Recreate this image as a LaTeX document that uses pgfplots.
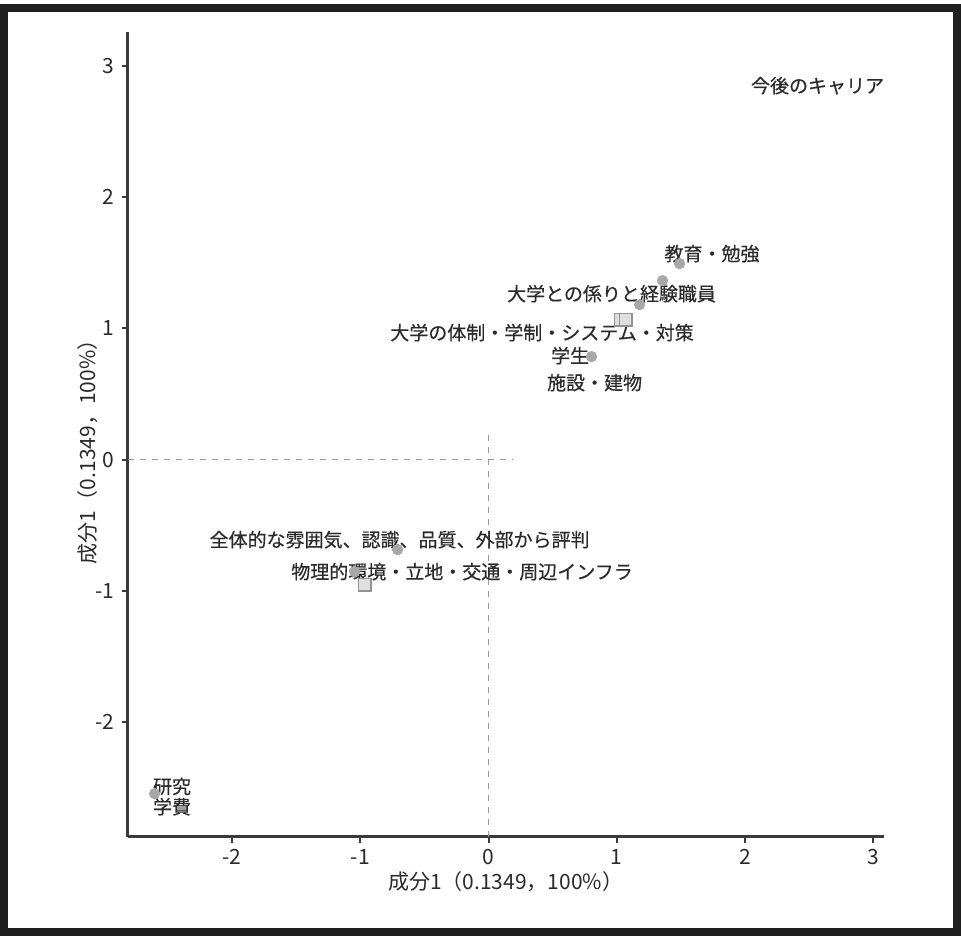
\documentclass[border=0pt]{standalone}
\usepackage{fontspec}
\setmainfont{Noto Sans CJK JP}
\newfontfamily\jpb{Noto Sans CJK JP}[FakeBold=0.4]
\usepackage{pgfplots}
\pgfplotsset{compat=1.18}
\definecolor{txt}{HTML}{2A2A2A}
\definecolor{ptc}{HTML}{A8A8A8}
\definecolor{axc}{HTML}{3A3A3A}
\tikzset{lab/.style={font=\jpb\fontsize{9.5}{11}\selectfont, text=txt, inner sep=0pt}}
\begin{document}
\begin{tikzpicture}[x=1pt,y=1pt]
\path[use as bounding box] (0,0) rectangle (480.5,468.5);
\fill[white] (0,0) rectangle (480.5,468.5);
\draw[black!88, line width=4pt] (2,2.5) rectangle (478.5,464.5);
\begin{axis}[
  at={(99.5,76.5)}, anchor=south west,
  scale only axis, width=378pt, height=402.5pt,
  xmin=-2.816, xmax=3.081, ymin=-2.873, ymax=3.262,
  axis x line*=bottom, axis y line*=left,
  axis line style={axc, line width=1.3pt, -},
  xtick={-2,-1,0,1,2,3}, ytick={-2,-1,0,1,2,3},
  tick style={axc, line width=1pt}, tick align=outside,
  major tick length=3pt,
  ticklabel style={font=\fontsize{10.5}{12}\selectfont, text=txt},
  /pgf/number format/assume math mode=true,
  xlabel={成分1（0.1349，100\%）},
  ylabel={成分1（0.1349，100\%）},
  xlabel style={at={(axis description cs:0.5,0)}, anchor=center, yshift=-22.5pt, font=\fontsize{10.5}{12}\selectfont, text=txt},
  ylabel style={at={(axis description cs:0,0.5)}, anchor=center, xshift=-6.5pt, yshift=20pt, font=\fontsize{10.5}{12}\selectfont, text=txt},
  clip=false
]
\addplot[gray!80, dashed, line width=0.6pt] coordinates {(-2.816,0) (0.18,0)};
\addplot[gray!80, dashed, line width=0.6pt] coordinates {(0,-2.873) (0,0.2)};
\addplot[only marks, mark=*, mark size=2.6pt, mark options={fill=ptc, draw=ptc}] coordinates {
 (1.49,1.494) (1.357,1.364) (1.178,1.181) (0.803,0.785)
 (-0.71,-0.686) (-1.045,-0.854) (-2.605,-2.546)
};
\addplot[only marks, mark=square*, mark size=3.2pt, mark options={fill=gray!25, draw=gray!85, line width=0.6pt}] coordinates {
 (1.03,1.067) (1.069,1.067) (-0.967,-0.953)
};
\node[lab] at (axis cs:2.566,2.85) {今後のキャリア};
\node[lab] at (axis cs:1.743,1.57) {教育・勉強};
\node[lab] at (axis cs:0.959,1.265) {大学との係りと経験職員};
\node[lab] at (axis cs:0.417,0.968) {大学の体制・学制・システム・対策};
\node[lab] at (axis cs:0.636,0.793) {学生};
\node[lab] at (axis cs:0.827,0.587) {施設・建物};
\node[lab] at (axis cs:-0.694,-0.61) {全体的な雰囲気、認識、品質、外部から評判};
\node[lab] at (axis cs:-0.207,-0.854) {物理的環境・立地・交通・周辺インフラ};
\node[lab] at (axis cs:-2.469,-2.49) {研究};
\node[lab] at (axis cs:-2.469,-2.645) {学費};
\end{axis}
\end{tikzpicture}
\end{document}
